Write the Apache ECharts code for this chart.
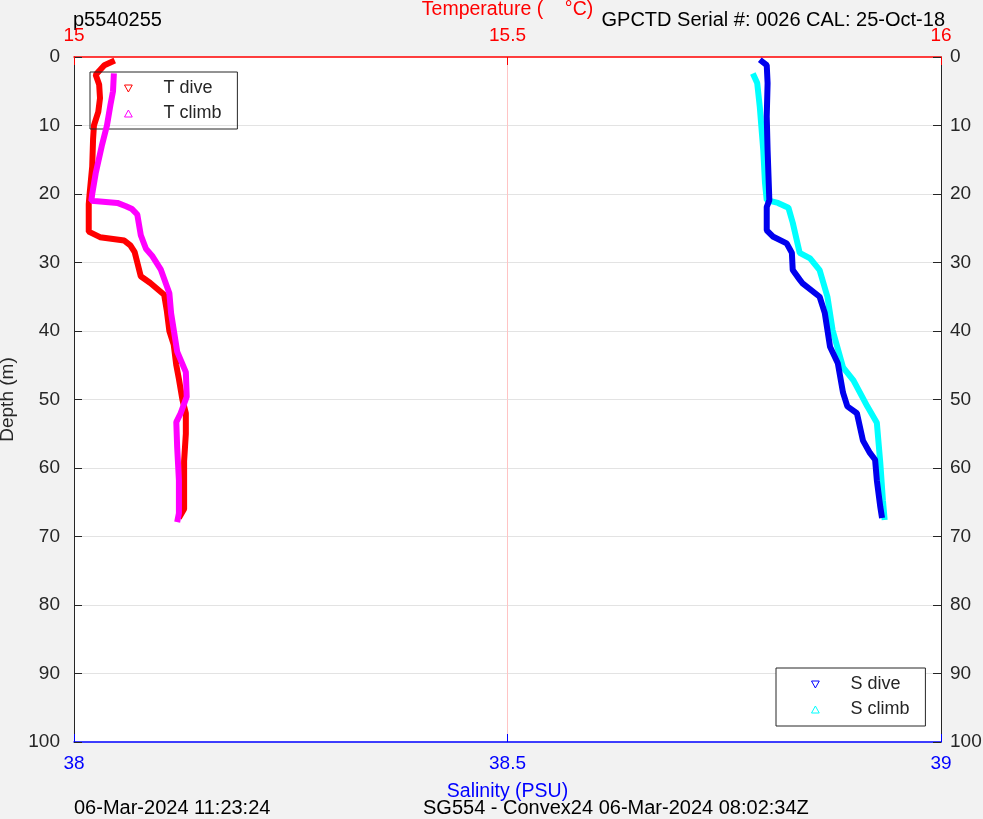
<!DOCTYPE html>
<html>
<head>
<meta charset="utf-8">
<script src="https://cdn.jsdelivr.net/npm/echarts@6/dist/echarts.min.js"></script>
<style>html,body{margin:0;padding:0;background:#f2f2f2}#c{width:983px;height:819px}</style>
</head>
<body>
<div id="c"></div>
<script>
// ---- data ----
const depthTicks = [0,10,20,30,40,50,60,70,80,90,100];
const tempTicks = [15, 15.5, 16];
const salTicks = [38, 38.5, 39];

const tDiveDepth = [0.5,1.2,2.6,4,6,8,10,12,16,20,21.5,25.5,26.3,26.8,27.5,28.5,30,32,33,34.7,37,40,42,45,47,50,52,55,57,59,62,66,67.3];
const tDiveTemp  = [15.047,15.035,15.025,15.029,15.030,15.028,15.023,15.022,15.021,15.018,15.017,15.017,15.030,15.058,15.065,15.070,15.073,15.077,15.088,15.104,15.107,15.110,15.115,15.118,15.121,15.125,15.129,15.129,15.128,15.127,15.127,15.127,15.121];

const tClimbDepth = [2.4,5,7,10,13,17,20,21,21.3,21.8,22.2,23,26,28,29,31,34.5,37.4,43,46,49.6,52,53.3,57,61.8,66.6,67.9];
const tClimbTemp  = [15.046,15.045,15.042,15.038,15.032,15.025,15.021,15.020,15.050,15.060,15.067,15.073,15.077,15.083,15.090,15.100,15.110,15.112,15.119,15.129,15.130,15.123,15.118,15.119,15.121,15.121,15.119];

const sDiveDepth = [0.4,1.2,3.8,8.7,13.6,20.9,21.9,25.3,26.2,27.2,28.6,31.1,32.5,33,35,37.4,42.3,44.7,49,51,52,56,57.8,58.8,61.8,65.7,67.3];
const sDiveSal   = [38.791,38.799,38.800,38.799,38.800,38.802,38.799,38.799,38.806,38.822,38.828,38.829,38.837,38.840,38.860,38.866,38.872,38.881,38.887,38.892,38.903,38.910,38.918,38.924,38.926,38.930,38.932];

const sClimbDepth = [2.4,3.8,7.3,13.6,18.4,20.9,21.3,22,24.2,28.6,29.4,31.1,35,39.9,45.3,47.2,51,53.4,59.3,64.7,67.6];
const sClimbSal   = [38.783,38.788,38.791,38.795,38.797,38.799,38.812,38.824,38.829,38.837,38.849,38.860,38.869,38.875,38.887,38.899,38.915,38.926,38.930,38.933,38.935];

const pairs = (xs, ys) => xs.map((x, i) => [x, ys[i]]);
const FONT = '"Liberation Sans", Arial, sans-serif';
const DARK = '#262626';

const chart = echarts.init(document.getElementById('c'), null, {renderer: 'canvas'});

function depthAxis(pos) {
  return {
    type: 'value', position: pos, inverse: true, min: 0, max: 100, interval: 10,
    name: pos === 'left' ? 'Depth (m)' : '', nameLocation: 'middle', nameGap: 51,
    nameTextStyle: {color: DARK, fontSize: 19, fontFamily: FONT},
    axisLine: {show: true, onZero: false, lineStyle: {color: DARK, width: 1}},
    axisTick: {show: true, inside: true, length: 8, lineStyle: {color: DARK}},
    axisLabel: {color: DARK, fontSize: 19, fontFamily: FONT, margin: pos === 'left' ? 14 : 9,
      showMinLabel: true, showMaxLabel: true,
      formatter: v => depthTicks.includes(v) ? String(v) : ''},
    splitLine: {show: pos === 'left', showMinLine: false, showMaxLine: false, lineStyle: {color: '#e3e3e3', width: 1}}
  };
}

const option = {
  backgroundColor: '#f2f2f2',
  animation: false,
  grid: {left: 74, right: 42, top: 57, bottom: 77, show: true, backgroundColor: '#ffffff', borderWidth: 0,
    containLabel: false, outerBoundsMode: 'none'},
  xAxis: [
    {
      type: 'value', position: 'top', min: 15, max: 16, interval: 0.5,
      name: 'Temperature (    °C)', nameLocation: 'middle', nameGap: 37,
      nameTextStyle: {color: '#ff0000', fontSize: 19.5, fontFamily: FONT},
      axisLine: {show: true, onZero: false, lineStyle: {color: '#ff0000', width: 1.5}},
      axisTick: {show: true, inside: true, length: 8, lineStyle: {color: '#ff0000'}},
      axisLabel: {color: '#ff0000', fontSize: 19, fontFamily: FONT, margin: 12, showMinLabel: true, showMaxLabel: true,
        formatter: v => tempTicks.includes(v) ? String(v) : ''},
      splitLine: {show: true, showMinLine: false, showMaxLine: false, lineStyle: {color: '#ffc4c4', width: 1}}
    },
    {
      type: 'value', position: 'bottom', min: 38, max: 39, interval: 0.5,
      name: 'Salinity (PSU)', nameLocation: 'middle', nameGap: 40,
      nameTextStyle: {color: '#0000ff', fontSize: 19.5, fontFamily: FONT},
      axisLine: {show: true, onZero: false, lineStyle: {color: '#0000ff', width: 1.5}},
      axisTick: {show: true, inside: true, length: 8, lineStyle: {color: '#0000ff'}},
      axisLabel: {color: '#0000ff', fontSize: 19, fontFamily: FONT, margin: 12, showMinLabel: true, showMaxLabel: true,
        formatter: v => salTicks.includes(v) ? String(v) : ''},
      splitLine: {show: false}
    }
  ],
  yAxis: [depthAxis('left'), depthAxis('right')],
  legend: [
    {
      orient: 'vertical', left: 90, top: 72,
      padding: [7, 16, 6, 34], itemGap: 6, itemWidth: 8, itemHeight: 7,
      borderColor: DARK, borderWidth: 1, backgroundColor: 'transparent', borderRadius: 0,
      textStyle: {color: DARK, fontSize: 18, fontFamily: FONT, lineHeight: 19, padding: [0, 0, 0, 26]},
      data: [
        {name: 'T dive', icon: 'path://M0,0L10,0L5,9Z', itemStyle: {color: 'transparent', borderColor: '#ff0000', borderWidth: 1}},
        {name: 'T climb', icon: 'path://M5,0L10,9L0,9Z', itemStyle: {color: 'transparent', borderColor: '#ff00ff', borderWidth: 1}}
      ]
    },
    {
      orient: 'vertical', left: 776, top: 668,
      padding: [7, 16, 7, 35], itemGap: 6, itemWidth: 8, itemHeight: 7,
      borderColor: DARK, borderWidth: 1, backgroundColor: '#ffffff', borderRadius: 0,
      textStyle: {color: DARK, fontSize: 18, fontFamily: FONT, lineHeight: 19, padding: [0, 0, 0, 26]},
      data: [
        {name: 'S dive', icon: 'path://M0,0L10,0L5,9Z', itemStyle: {color: 'transparent', borderColor: '#0000ff', borderWidth: 1}},
        {name: 'S climb', icon: 'path://M5,0L10,9L0,9Z', itemStyle: {color: 'transparent', borderColor: '#00ffff', borderWidth: 1}}
      ]
    }
  ],
  series: [
    {name: 'T dive', type: 'line', xAxisIndex: 0, yAxisIndex: 0, data: pairs(tDiveTemp, tDiveDepth),
      showSymbol: false, lineStyle: {color: '#ff0000', width: 6}, itemStyle: {color: '#ff0000'}, z: 3},
    {name: 'T climb', type: 'line', xAxisIndex: 0, yAxisIndex: 0, data: pairs(tClimbTemp, tClimbDepth),
      showSymbol: false, lineStyle: {color: '#ff00ff', width: 6}, itemStyle: {color: '#ff00ff'}, z: 4},
    {name: 'S dive', type: 'line', xAxisIndex: 1, yAxisIndex: 0, data: pairs(sDiveSal, sDiveDepth),
      showSymbol: false, lineStyle: {color: '#0000ee', width: 6}, itemStyle: {color: '#0000ff'}, z: 3},
    {name: 'S climb', type: 'line', xAxisIndex: 1, yAxisIndex: 0, data: pairs(sClimbSal, sClimbDepth),
      showSymbol: false, lineStyle: {color: '#00ffff', width: 6}, itemStyle: {color: '#00ffff'}, z: 2}
  ],
  graphic: [
    {type: 'text', left: 73, top: 10, style: {text: 'p5540255', fill: '#000', font: '20px ' + FONT}},
    {type: 'text', right: 38, top: 10, style: {text: 'GPCTD Serial #: 0026 CAL: 25-Oct-18', fill: '#000', font: '20px ' + FONT}},
    {type: 'text', left: 74, top: 798, style: {text: '06-Mar-2024 11:23:24', fill: '#000', font: '20px ' + FONT}},
    {type: 'text', left: 423, top: 798, style: {text: 'SG554 - Convex24 06-Mar-2024 08:02:34Z', fill: '#000', font: '20px ' + FONT}}
  ]
};
chart.setOption(option);
</script>
</body>
</html>
